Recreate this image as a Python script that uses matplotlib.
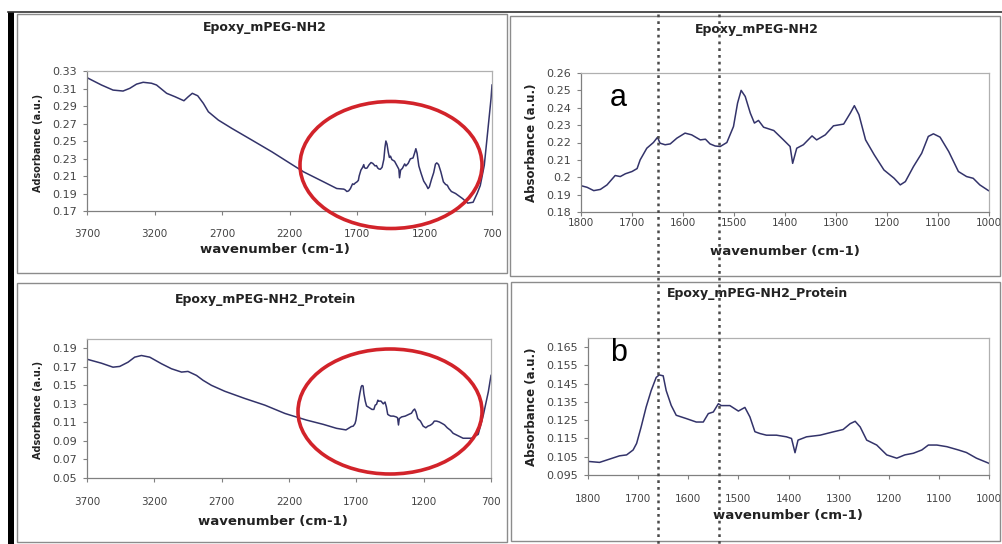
import matplotlib.pyplot as plt
from matplotlib.patches import Rectangle, Ellipse
from matplotlib.lines import Line2D

# Epoxy_mPEG-NH2 spectrum (wavenumber, absorbance)
wn_peg = [3700, 3690, 3593, 3507, 3433, 3383, 3333, 3284, 3222, 3185, 3110, 3048,
          2982, 2950, 2920, 2880, 2838, 2801, 2727, 2627, 2478, 2330, 2194, 2095,
          1946, 1850,
          1798, 1788, 1775, 1762, 1749, 1733, 1723, 1713, 1700, 1690, 1684, 1671,
          1658, 1650, 1645, 1635, 1625, 1612, 1596, 1583, 1566, 1556, 1547, 1537,
          1527, 1514, 1501, 1493, 1486, 1478, 1468, 1460, 1452, 1442, 1422, 1403,
          1390, 1385, 1377, 1364, 1347, 1338, 1321, 1305, 1285, 1272, 1264, 1255,
          1242, 1225, 1206, 1186, 1174, 1164, 1148, 1132, 1119, 1109, 1096, 1079,
          1060, 1044, 1031, 1018, 1001,
          970, 918, 880, 840, 810, 787, 757, 732, 707, 700]
abs_peg = [0.3225, 0.3216, 0.3140, 0.3082, 0.3071, 0.3102, 0.3150, 0.3171, 0.3160, 0.3140, 0.3045, 0.3006,
           0.2960, 0.3006, 0.3045, 0.3017, 0.2930, 0.2834, 0.2739, 0.2644, 0.2510, 0.2376, 0.2243, 0.2147,
           0.2032, 0.1957,
           0.1950, 0.1942, 0.1923, 0.1930, 0.1956, 0.2010, 0.2004, 0.2020, 0.2033, 0.2050, 0.2100, 0.2167,
           0.2200, 0.2230, 0.2196, 0.2187, 0.2192, 0.2225, 0.2254, 0.2244, 0.2215, 0.2219, 0.2192, 0.2180,
           0.2177, 0.2200, 0.2292, 0.2427, 0.2500, 0.2465, 0.2369, 0.2312, 0.2327, 0.2288, 0.2269, 0.2215,
           0.2177, 0.2080, 0.2167, 0.2187, 0.2238, 0.2215, 0.2244, 0.2296, 0.2306, 0.2369, 0.2412, 0.2360,
           0.2215, 0.2129, 0.2042, 0.1994, 0.1956, 0.1975, 0.2062, 0.2138, 0.2235, 0.2250, 0.2231, 0.2148,
           0.2033, 0.2004, 0.1994, 0.1956, 0.1923,
           0.1900, 0.1842, 0.1790, 0.1800, 0.1900, 0.1990, 0.2224, 0.2605, 0.2987, 0.3140]

# Epoxy_mPEG-NH2_Protein spectrum
wn_prot = [3700, 3693, 3593, 3507, 3457, 3395, 3346, 3296, 3234, 3147, 3073, 2998,
           2950, 2887, 2838, 2776, 2677, 2528, 2379, 2231, 2194, 2070, 1946, 1847,
           1798, 1777, 1757, 1737, 1723, 1710, 1703, 1694, 1684, 1674, 1664, 1658,
           1650, 1644, 1634, 1624, 1604, 1584, 1570, 1560, 1550, 1540, 1534, 1517,
           1500, 1487, 1477, 1467, 1457, 1444, 1424, 1404, 1394, 1387, 1381, 1364,
           1337, 1311, 1291, 1277, 1267, 1257, 1244, 1224, 1204, 1184, 1168, 1151,
           1134, 1121, 1104, 1084, 1061, 1045, 1025, 1001,
           981, 907, 845, 795, 757, 720, 700]
abs_prot = [0.1786, 0.1779, 0.1739, 0.1696, 0.1704, 0.1750, 0.1804, 0.1822, 0.1804, 0.1733, 0.1679, 0.1643,
            0.1650, 0.1607, 0.1554, 0.1500, 0.1436, 0.1358, 0.1286, 0.1197, 0.1180, 0.1125, 0.1079, 0.1036,
            0.1024, 0.1019, 0.1037, 0.1055, 0.1060, 0.1087, 0.1123, 0.1213, 0.1322, 0.1412, 0.1484, 0.1498,
            0.1493, 0.1412, 0.1331, 0.1277, 0.1259, 0.1240, 0.1240, 0.1286, 0.1295, 0.1340, 0.1330, 0.1330,
            0.1300, 0.1320, 0.1268, 0.1187, 0.1177, 0.1168, 0.1168, 0.1159, 0.1150, 0.1072, 0.1141, 0.1159,
            0.1168, 0.1186, 0.1199, 0.1231, 0.1244, 0.1213, 0.1141, 0.1114, 0.1060, 0.1042, 0.1060, 0.1069,
            0.1087, 0.1114, 0.1114, 0.1105, 0.1087, 0.1073, 0.1042, 0.1015,
            0.0982, 0.0929, 0.0929, 0.0971, 0.1179, 0.1429, 0.1607]

xticks_full = [3700, 3200, 2700, 2200, 1700, 1200, 700]
xticks_zoom = [1800, 1700, 1600, 1500, 1400, 1300, 1200, 1100, 1000]
yticks_a_full = [0.17, 0.19, 0.21, 0.23, 0.25, 0.27, 0.29, 0.31, 0.33]
ylabels_a_full = ["0.17", "0.19", "0.21", "0.23", "0.25", "0.27", "0.29", "0.31", "0.33"]
yticks_a_zoom = [0.18, 0.19, 0.20, 0.21, 0.22, 0.23, 0.24, 0.25, 0.26]
ylabels_a_zoom = ["0.18", "0.19", "0.2", "0.21", "0.22", "0.23", "0.24", "0.25", "0.26"]
yticks_b_full = [0.05, 0.07, 0.09, 0.11, 0.13, 0.15, 0.17, 0.19]
ylabels_b_full = ["0.05", "0.07", "0.09", "0.11", "0.13", "0.15", "0.17", "0.19"]
yticks_b_zoom = [0.095, 0.105, 0.115, 0.125, 0.135, 0.145, 0.155, 0.165]
ylabels_b_zoom = ["0.095", "0.105", "0.115", "0.125", "0.135", "0.145", "0.155", "0.165"]

W, H = 1002, 544
fig = plt.figure(figsize=(W / 100, H / 100), dpi=100)
fig.patch.set_facecolor("white")


def fx(x):
    return x / W


def fy(y):
    return 1 - y / H


def box(l, t, r, b):
    fig.add_artist(Rectangle((fx(l), fy(b)), (r - l) / W, (b - t) / H, transform=fig.transFigure,
                             fill=False, ec="#8c8c8c", lw=1.0))


def panel(area, wn, ab, xlim, xticks, ylim, yticks, ylabels, xpad):
    l, t, r, b = area
    ax = fig.add_axes([fx(l), fy(b), (r - l) / W, (b - t) / H])
    ax.plot(wn, ab, color="#33336a", lw=1.1)
    ax.set_xlim(*xlim)
    ax.set_ylim(*ylim)
    ax.set_xticks(xticks)
    ax.set_xticklabels([str(v) for v in xticks])
    ax.set_yticks(yticks)
    ax.set_yticklabels(ylabels)
    for s in ax.spines.values():
        s.set_color("#b0b0b0")
        s.set_linewidth(0.9)
    ax.spines["left"].set_color("#808080")
    ax.spines["bottom"].set_color("#808080")
    ax.tick_params(direction="out", length=3, width=0.8, color="#808080", labelcolor="#444444")
    ax.tick_params(axis="x", labelsize=7.5, pad=xpad)
    ax.tick_params(axis="y", labelsize=8, pad=4)
    return ax


# outer frame pieces
fig.add_artist(Rectangle((fx(8), fy(544)), 6 / W, (544 - 12) / H, transform=fig.transFigure,
                         fc="black", ec="none"))
fig.add_artist(Line2D([fx(8), fx(1002)], [fy(12), fy(12)], transform=fig.transFigure,
                      color="#333333", lw=1.2))

box(17, 14, 507, 273)
box(510, 16, 1000, 276)
box(17, 283, 507, 542)
box(511, 282, 1000, 541)

panel((87, 71, 492, 211), wn_peg, abs_peg, (3700, 700), xticks_full,
      (0.17, 0.33), yticks_a_full, ylabels_a_full, 10)
panel((581, 73, 989, 212), wn_peg, abs_peg, (1800, 1000), xticks_zoom,
      (0.18, 0.26), yticks_a_zoom, ylabels_a_zoom, 1)
panel((87, 339, 491, 478), wn_prot, abs_prot, (3700, 700), xticks_full,
      (0.05, 0.20), yticks_b_full, ylabels_b_full, 11)
panel((588, 338, 989, 475), wn_prot, abs_prot, (1800, 1000), xticks_zoom,
      (0.095, 0.17), yticks_b_zoom, ylabels_b_zoom, 11)

tkw = dict(ha="center", va="center", fontweight="bold", color="#222222")
fig.text(fx(265), fy(27), "Epoxy_mPEG-NH2", fontsize=9, **tkw)
fig.text(fx(757), fy(30), "Epoxy_mPEG-NH2", fontsize=9, **tkw)
fig.text(fx(265), fy(300), "Epoxy_mPEG-NH2_Protein", fontsize=9, **tkw)
fig.text(fx(758), fy(293), "Epoxy_mPEG-NH2_Protein", fontsize=9, **tkw)

fig.text(fx(275), fy(249), "wavenumber (cm-1)", fontsize=9.5, **tkw)
fig.text(fx(785), fy(251), "wavenumber (cm-1)", fontsize=9.5, **tkw)
fig.text(fx(273), fy(521), "wavenumber (cm-1)", fontsize=9.5, **tkw)
fig.text(fx(788), fy(516), "wavenumber (cm-1)", fontsize=9.5, **tkw)

fig.text(fx(38), fy(143), "Adsorbance (a.u.)", fontsize=7, rotation=90, **tkw)
fig.text(fx(532), fy(143), "Absorbance (a.u.)", fontsize=8.5, rotation=90, **tkw)
fig.text(fx(38), fy(410), "Adsorbance (a.u.)", fontsize=7, rotation=90, **tkw)
fig.text(fx(532), fy(407), "Absorbance (a.u.)", fontsize=8.5, rotation=90, **tkw)

fig.text(fx(610), fy(106), "a", fontsize=22, family="Liberation Sans", ha="left", va="baseline")
fig.text(fx(610), fy(361), "b", fontsize=22, family="Liberation Sans", ha="left", va="baseline")

# red ellipses around the fingerprint region
fig.add_artist(Ellipse((fx(391), fy(165)), 182 / W, 127 / H, transform=fig.transFigure,
                       fill=False, ec="#d2232a", lw=2.6))
fig.add_artist(Ellipse((fx(390), fy(411.5)), 184 / W, 125 / H, transform=fig.transFigure,
                       fill=False, ec="#d2232a", lw=2.6))

# dotted guide lines across the right panels
for x in [658, 719]:
    fig.add_artist(Line2D([fx(x), fx(x)], [fy(14), fy(544)], transform=fig.transFigure,
                          color="#4a4a4a", lw=1.8, ls=(0, (1.1, 1.6)), zorder=10))

fig.savefig("out.png", dpi=100)
